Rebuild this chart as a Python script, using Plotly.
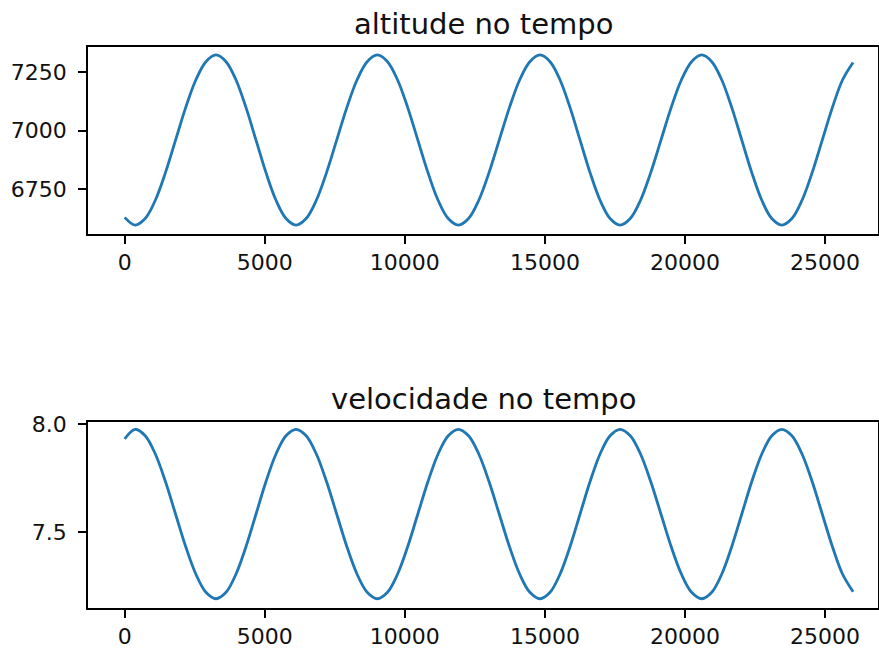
import plotly.graph_objects as go

# time (s) sample points
tempo = [0,
         370, 731, 1093, 1454, 1815, 2176, 2538, 2899, 3260,
         3617, 3974, 4331, 4688, 5044, 5401, 5758, 6115,
         6478, 6841, 7204, 7567, 7929, 8292, 8655, 9018,
         9380, 9741, 10103, 10464, 10826, 11187, 11549, 11910,
         12275, 12639, 13004, 13369, 13733, 14098, 14462, 14827,
         15184, 15541, 15898, 16255, 16612, 16969, 17326, 17683,
         18048, 18412, 18777, 19142, 19506, 19871, 20235, 20600,
         20957, 21314, 21671, 22028, 22385, 22742, 23099, 23456,
         23817, 24178, 24539, 24900, 25261, 25622, 26000]

altitude = [6630,
            6597, 6625, 6703, 6821, 6960, 7099, 7217, 7295, 7324,
            7295, 7217, 7099, 6960, 6821, 6703, 6625, 6597,
            6625, 6703, 6821, 6960, 7099, 7217, 7295, 7324,
            7295, 7217, 7099, 6960, 6821, 6703, 6625, 6597,
            6625, 6703, 6821, 6960, 7099, 7217, 7295, 7324,
            7295, 7217, 7099, 6960, 6821, 6703, 6625, 6597,
            6625, 6703, 6821, 6960, 7099, 7217, 7295, 7324,
            7295, 7217, 7099, 6960, 6821, 6703, 6625, 6597,
            6625, 6703, 6821, 6960, 7099, 7217, 7292]

velocidade = [7.932,
              7.977, 7.947, 7.862, 7.734, 7.583, 7.432, 7.304, 7.219, 7.189,
              7.219, 7.304, 7.432, 7.583, 7.734, 7.862, 7.947, 7.977,
              7.947, 7.862, 7.734, 7.583, 7.432, 7.304, 7.219, 7.189,
              7.219, 7.304, 7.432, 7.583, 7.734, 7.862, 7.947, 7.977,
              7.947, 7.862, 7.734, 7.583, 7.432, 7.304, 7.219, 7.189,
              7.219, 7.304, 7.432, 7.583, 7.734, 7.862, 7.947, 7.977,
              7.947, 7.862, 7.734, 7.583, 7.432, 7.304, 7.219, 7.189,
              7.219, 7.304, 7.432, 7.583, 7.734, 7.862, 7.947, 7.977,
              7.947, 7.862, 7.734, 7.583, 7.432, 7.304, 7.222]

x_ticks = [0, 5000, 10000, 15000, 20000, 25000]
x_tick_labels = ["0", "5000", "10000", "15000", "20000", "25000"]
alt_ticks = [6750, 7000, 7250]
alt_tick_labels = ["6750", "7000", "7250"]
vel_ticks = [7.5, 8.0]
vel_tick_labels = ["7.5", "8.0"]
titles = ["altitude no tempo", "velocidade no tempo"]

FONT = "DejaVu Sans"
LINE = "#1f77b4"

fig = go.Figure()
fig.add_trace(go.Scatter(x=tempo, y=altitude, mode="lines",
                         line=dict(color=LINE, width=2.8, shape="spline", smoothing=1.0),
                         xaxis="x", yaxis="y", showlegend=False))
fig.add_trace(go.Scatter(x=tempo, y=velocidade, mode="lines",
                         line=dict(color=LINE, width=2.8, shape="spline", smoothing=1.0),
                         xaxis="x2", yaxis="y2", showlegend=False))

axis_common = dict(showline=True, linecolor="black", linewidth=1.6, mirror=True,
                   ticks="outside", ticklen=8, tickwidth=1.6, tickcolor="black",
                   showgrid=False, zeroline=False, automargin=False,
                   tickfont=dict(family=FONT, size=22, color="#111111"))
x_common = dict(axis_common, ticklabelstandoff=0)
y_common = dict(axis_common, ticklabelstandoff=7)

fig.update_layout(
    template="none",
    width=879, height=648,
    margin=dict(l=88, r=1, t=47, b=40),
    plot_bgcolor="white", paper_bgcolor="white",
    font=dict(family=FONT, color="black"),
    xaxis=dict(domain=[0, 1], anchor="y", range=[-1310, 26890],
               tickvals=x_ticks, ticktext=x_tick_labels, **x_common),
    yaxis=dict(domain=[0.6667, 1], anchor="x", range=[6559, 7358],
               tickvals=alt_ticks, ticktext=alt_tick_labels, **y_common),
    xaxis2=dict(domain=[0, 1], anchor="y2", range=[-1310, 26890],
                tickvals=x_ticks, ticktext=x_tick_labels, **x_common),
    yaxis2=dict(domain=[0, 0.332], anchor="x2", range=[7.146, 8.012],
                tickvals=vel_ticks, ticktext=vel_tick_labels, **y_common),
    annotations=[
        dict(text=titles[0], xref="paper", yref="paper", x=0.5, y=1.0, xanchor="center",
             yanchor="bottom", yshift=4, showarrow=False,
             font=dict(family=FONT, size=29, color="#111111")),
        dict(text=titles[1], xref="paper", yref="paper", x=0.5, y=0.332, xanchor="center",
             yanchor="bottom", yshift=4, showarrow=False,
             font=dict(family=FONT, size=29, color="#111111")),
    ],
)

fig.write_html("out.html",
               config={"displayModeBar": False},
               post_script="document.body.style.margin='0';document.body.style.overflow='hidden';")
